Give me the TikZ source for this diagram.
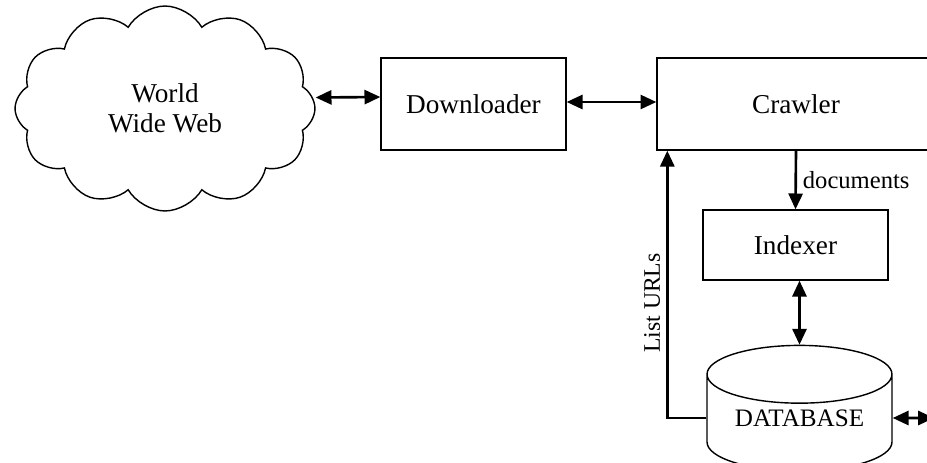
\documentclass[tikz,border=0pt]{standalone}
\usepackage{fontspec}
\setmainfont{Liberation Serif}
\usetikzlibrary{arrows.meta}
\usetikzlibrary{shapes.geometric,shapes.symbols}

\tikzset{
  box/.style={rectangle, draw=black, line width=0.8pt},
  link/.style={line width=1.5pt, {Triangle[length=9pt,width=8pt]}-{Triangle[length=9pt,width=8pt]}},
  feed/.style={line width=1.5pt, -{Triangle[length=9pt,width=8pt]}}
}

\begin{document}
\begin{tikzpicture}[x=0.02cm, y=-0.02cm, font=\fontsize{15.5}{17}\selectfont]

      \useasboundingbox (0, 0) rectangle (927, 463);
      \clip (0, 0) rectangle (927, 463);

      \node[cloud, cloud puffs=12, cloud puff arc=120, aspect=1.5, draw=black, line width=0.8pt, minimum width=6cm, minimum height=4.1cm, align=center] (www) at (165, 108.5) {World\\Wide Web};

      \node[box, minimum width=3.7cm, minimum height=1.84cm] (dl) at (473.5, 104) {Downloader};
      \node[box, minimum width=5.56cm, minimum height=1.84cm] (crawler) at (796, 104) {Crawler};
      \node[box, minimum width=3.7cm, minimum height=1.4cm] (indexer) at (795.5, 245) {Indexer};

      \node[cylinder, shape border rotate=90, aspect=0.41, draw=black, line width=0.8pt, minimum width=3.7cm, minimum height=2.4cm, text height=9.4pt, text depth=11.4pt, font=\fontsize{14.3}{16}\selectfont] (db) at (799.5, 428) {DATABASE};

      \coordinate (out) at (934, 418);

      \draw[link] ([yshift=0.22cm]www.east) -- ([yshift=0.14cm]dl.west);
      \draw[link] ([yshift=0.04cm]dl.east) -- ([yshift=0.04cm]crawler.west);
      \draw[feed] (crawler.south) -- (indexer.north) node[midway, right, font=\fontsize{14}{16}\selectfont] {documents};
      \draw[link] ([xshift=0.08cm]indexer.south) -- (db.top);
      \draw[link] ([yshift=0.2cm]db.east) -- (out);

      % urls back to the crawler
      \draw[feed] ([yshift=0.2cm]db.west) -| ([xshift=0.22cm]crawler.south west) node[pos=0.715, above, rotate=90, font=\fontsize{13.5}{15}\selectfont] {List URLs};

    \end{tikzpicture}
\end{document}
